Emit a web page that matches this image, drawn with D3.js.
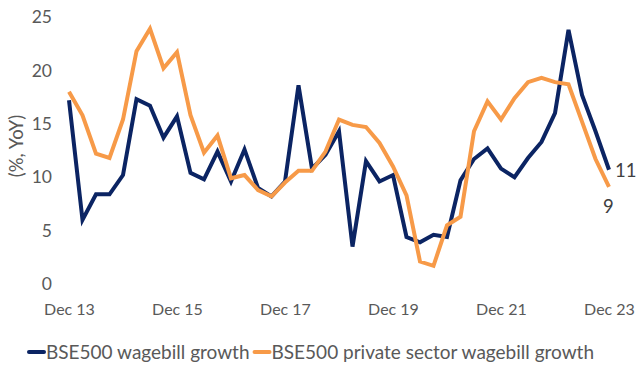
<!DOCTYPE html>
<html><head><meta charset="utf-8">
<script src="https://cdn.jsdelivr.net/npm/d3@7"></script>
<style>body{margin:0;background:#fff}svg{display:block}text{font-family:Lato,"Open Sans",sans-serif}</style>
</head><body><svg id="c" width="641" height="371"></svg>
<script>
const quarters = d3.range(41); // Dec 13 .. Dec 23, quarterly
const tickLabels = ["Dec 13","Dec 15","Dec 17","Dec 19","Dec 21","Dec 23"];
const yTicks = [0,5,10,15,20,25];
const wagebill = [17.2,6.0,8.4,8.4,10.2,17.3,16.7,13.7,15.7,10.4,9.8,12.4,9.6,12.6,9.0,8.2,9.6,18.6,10.8,12.1,14.3,3.5,11.5,9.6,10.2,4.4,3.9,4.6,4.4,9.7,11.7,12.7,10.8,10.0,11.8,13.3,16.0,23.8,17.7,14.3,10.7];
const privateWagebill = [18.0,15.8,12.2,11.8,15.4,21.8,23.9,20.2,21.7,15.8,12.3,13.9,9.9,10.2,8.8,8.2,9.5,10.6,10.6,12.4,15.4,14.9,14.7,13.2,11.0,8.3,2.1,1.7,5.5,6.3,14.3,17.1,15.4,17.4,18.9,19.3,18.9,18.7,15.2,11.7,9.1];
const seriesNames = ["BSE500 wagebill growth","BSE500 private sector wagebill growth"];
const colors = ["#0b2463","#f79a48"];
const endLabels = ["11","9"];

const svg = d3.select("#c");
const x = d3.scaleLinear().domain([0,40]).range([69,609]);
const y = d3.scaleLinear().domain([0,25]).range([284,17]);

const yAxis = svg.append("g").attr("transform","translate(52,0)")
  .call(d3.axisLeft(y).tickValues(yTicks).tickSize(0).tickPadding(0));
yAxis.select(".domain").remove();
yAxis.selectAll("text").attr("font-size",17.5).attr("fill","#595959").attr("font-family","Lato");

const xAxis = svg.append("g").attr("transform","translate(0,304)")
  .call(d3.axisBottom(x).tickValues([0,8,16,24,32,40]).tickFormat((d,i)=>tickLabels[i]).tickSize(0).tickPadding(0));
xAxis.select(".domain").remove();
xAxis.selectAll("text").attr("font-size",16).attr("fill","#595959").attr("font-family","Lato");

svg.append("text").attr("transform","translate(23,146) rotate(-90)")
  .attr("text-anchor","middle").attr("font-size",18.5).attr("fill","#595959").text("(%, YoY)");

const line = d3.line().x((d,i)=>x(quarters[i])).y(d=>y(d));
[wagebill, privateWagebill].forEach((s,k)=>{
  svg.append("path").datum(s).attr("d",line).attr("fill","none")
    .attr("stroke",colors[k]).attr("stroke-width",4).attr("stroke-linejoin","miter");
});
svg.append("text").attr("x",x(40)+6).attr("y",y(wagebill[40])+7).attr("font-size",18.5).attr("fill","#404040").text(endLabels[0]);
svg.append("text").attr("x",x(40)-6).attr("y",y(privateWagebill[40])+26).attr("font-size",18.5).attr("fill","#404040").text(endLabels[1]);

const leg = svg.append("g").attr("transform","translate(29,352)");
let lx = 0;
seriesNames.forEach((n,k)=>{
  leg.append("line").attr("x1",lx).attr("x2",lx+15).attr("y1",0).attr("y2",0).attr("stroke",colors[k]).attr("stroke-width",4).attr("stroke-linecap","round");
  const t = leg.append("text").attr("x",lx+17).attr("y",6.5).attr("font-size",19).attr("fill","#595959").text(n);
  lx += 17 + t.node().getComputedTextLength() + 5;
});
</script></body></html>
